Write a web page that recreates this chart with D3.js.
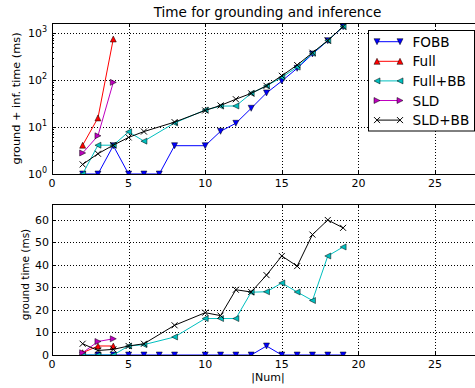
<!DOCTYPE html>
<meta charset="utf-8">
<style>
body { margin: 0; background: #fff; }
svg { display: block; font-family: "DejaVu Sans", sans-serif; }
.grid line { stroke: #000; stroke-width: 1; stroke-dasharray: 1,2; shape-rendering: crispEdges; }
.frame { fill: none; stroke: #000; stroke-width: 1; shape-rendering: crispEdges; }
.tick-mark { stroke: #000; stroke-width: 1; shape-rendering: crispEdges; }
.ticklabel { font-size: 11px; fill: #000; }
</style>
<body>
<svg width="475" height="388"></svg>
<script src="https://cdn.jsdelivr.net/npm/d3@7"></script>
<script>

// x values (|Num|) per series
var xFOBB = [2, 3, 4, 5, 6, 7, 8, 10, 11, 12, 13, 14, 15, 16, 17, 18, 19],
    xFull = [2, 3, 4],
    xFullBB = [2, 3, 4, 5, 6, 8, 10, 11, 12, 13, 14, 15, 16, 17, 18, 19],
    xSLD = [2, 3, 4],
    xSLDBB = [2, 3, 4, 5, 6, 8, 10, 11, 12, 13, 14, 15, 16, 17, 18, 19];

// ground + inference time (ms)
var totFOBB = [1, 1, 4, 1, 1, 1, 4, 4, 8.1, 12, 25, 53, 95, 177, 357, 685, 1360],
    totFull = [4.1, 15.6, 745],
    totFullBB = [1, 4.1, 4.1, 7.9, 5.0, 12.2, 23, 27.8, 28, 52, 75, 114, 188, 369, 690, 1370],
    totSLD = [2.8, 6.5, 89],
    totSLDBB = [1.6, 2.7, 4.1, 6.0, 8.0, 12.7, 22.5, 28.7, 39, 52, 75, 123, 208, 380, 690, 1370];

// ground time (ms)
var gndFOBB = [0, 0, 0, 0, 0, 0, 0, 0, 0, 0, 0, 4, 0, 0, 0, 0, 0],
    gndFull = [1, 4, 4],
    gndFullBB = [0, 0, 0, 4, 4.6, 8, 16.2, 16.2, 16.2, 27.9, 28.1, 32, 28, 24.2, 44, 48],
    gndSLD = [1, 6, 7.2],
    gndSLDBB = [5, 2, 2.5, 4, 5, 13.2, 18.8, 17.5, 29, 28, 35.5, 44, 39.5, 53.5, 60, 56.5];

var xTicks = [0, 5, 10, 15, 20, 25],
    logTicks = [1, 10, 100, 1000],
    linTicks = [0, 10, 20, 30, 40, 50, 60];

var series = [
  {name: "FOBB",   color: "#0000ff", marker: "v", xs: xFOBB,   tot: totFOBB,   gnd: gndFOBB},
  {name: "Full",   color: "#ff0000", marker: "^", xs: xFull,   tot: totFull,   gnd: gndFull},
  {name: "Full+BB", color: "#00bfbf", marker: "<", xs: xFullBB, tot: totFullBB, gnd: gndFullBB},
  {name: "SLD",    color: "#bf00bf", marker: ">", xs: xSLD,    tot: totSLD,    gnd: gndSLD},
  {name: "SLD+BB", color: "#000000", marker: "x", xs: xSLDBB,  tot: totSLDBB,  gnd: gndSLDBB}
];

var svg = d3.select("svg");
var left = 52, right = 481;

var x = d3.scaleLinear().domain([0, 28]).range([left, right]);
var yTop = d3.scaleLog().domain([1, 1630]).range([174, 23]);
var yBot = d3.scaleLinear().domain([0, 67.1]).range([355, 204]);

function markerPath(m) {
  var s = 3;
  if (m == "v") return "M" + (-s) + "," + (-s) + "L" + s + "," + (-s) + "L0," + s + "Z";
  if (m == "^") return "M" + (-s) + "," + s + "L" + s + "," + s + "L0," + (-s) + "Z";
  if (m == "<") return "M" + s + "," + (-s) + "L" + s + "," + s + "L" + (-s) + ",0Z";
  if (m == ">") return "M" + (-s) + "," + (-s) + "L" + (-s) + "," + s + "L" + s + ",0Z";
  return "M-3,-3L3,3M-3,3L3,-3";
}

function drawPanel(id, y, key, ticks, isLog) {
  var y0 = y.range()[0], y1 = y.range()[1];
  var g = svg.append("g");

  svg.append("clipPath").attr("id", id)
    .append("rect").attr("x", left).attr("y", y1).attr("width", right - left).attr("height", y0 - y1);

  // grid
  var grid = g.append("g").attr("class", "grid");
  grid.selectAll(".gx").data(xTicks.filter(function(d) { return d > 0; })).enter().append("line")
      .attr("x1", function(d) { return Math.round(x(d)) + 0.5; })
      .attr("x2", function(d) { return Math.round(x(d)) + 0.5; })
      .attr("y1", y1).attr("y2", y0);
  grid.selectAll(".gy").data(ticks.filter(function(d) { return isLog ? d > 1 : d > 0; })).enter().append("line")
      .attr("y1", function(d) { return Math.round(y(d)) + 0.5; })
      .attr("y2", function(d) { return Math.round(y(d)) + 0.5; })
      .attr("x1", left).attr("x2", right);

  // ticks (inward, both sides)
  var tk = g.append("g");
  xTicks.forEach(function(d) {
    var px = Math.round(x(d)) + 0.5;
    tk.append("line").attr("class", "tick-mark").attr("x1", px).attr("x2", px).attr("y1", y0).attr("y2", y0 - 4);
    tk.append("line").attr("class", "tick-mark").attr("x1", px).attr("x2", px).attr("y1", y1).attr("y2", y1 + 4);
  });
  ticks.forEach(function(d) {
    var py = Math.round(y(d)) + 0.5;
    tk.append("line").attr("class", "tick-mark").attr("x1", left).attr("x2", left + 4).attr("y1", py).attr("y2", py);
  });
  if (isLog) {
    var minor = [];
    [1, 10, 100, 1000].forEach(function(dec) {
      for (var k = 2; k <= 9; k++) if (dec * k < y.domain()[1]) minor.push(dec * k);
    });
    minor.forEach(function(d) {
      var py = Math.round(y(d)) + 0.5;
      tk.append("line").attr("class", "tick-mark").attr("x1", left).attr("x2", left + 2).attr("y1", py).attr("y2", py);
    });
  }

  // x tick labels
  g.selectAll(".xl").data(xTicks).enter().append("text")
      .attr("class", "ticklabel")
      .attr("x", function(d) { return x(d); })
      .attr("y", y0 + 13)
      .attr("text-anchor", "middle")
      .text(function(d) { return d; });

  // y tick labels
  if (isLog) {
    ticks.forEach(function(d) {
      var t = g.append("text").attr("class", "ticklabel")
          .attr("x", left - 5).attr("y", y(d) + 4).attr("text-anchor", "end");
      t.append("tspan").text("10");
      t.append("tspan").attr("dy", -5).attr("font-size", "8px").text(Math.round(Math.log10(d)));
    });
  } else {
    g.selectAll(".yl").data(ticks).enter().append("text")
        .attr("class", "ticklabel")
        .attr("x", left - 3)
        .attr("y", function(d) { return y(d) + 4; })
        .attr("text-anchor", "end")
        .text(function(d) { return d; });
  }

  // series
  var plot = g.append("g").attr("clip-path", "url(#" + id + ")");
  series.forEach(function(s) {
    var pts = s.xs.map(function(v, i) { return [x(v), y(s[key][i])]; });
    plot.append("path")
        .attr("d", d3.line()(pts))
        .attr("fill", "none")
        .attr("stroke", s.color)
        .attr("stroke-width", 1);
    plot.selectAll(null).data(pts).enter().append("path")
        .attr("transform", function(p) { return "translate(" + p[0] + "," + p[1] + ")"; })
        .attr("d", markerPath(s.marker))
        .attr("fill", s.marker == "x" ? "none" : s.color)
        .attr("stroke", "#000")
        .attr("stroke-width", s.marker == "x" ? 1 : 0.5);
  });

  g.append("rect").attr("class", "frame")
      .attr("x", left + 0.5).attr("y", y1 + 0.5)
      .attr("width", right - left).attr("height", y0 - y1);
}

drawPanel("clipTop", yTop, "tot", logTicks, true);
drawPanel("clipBot", yBot, "gnd", linTicks, false);

// title and axis labels
svg.append("text").attr("x", 267.5).attr("y", 17).attr("text-anchor", "middle")
    .attr("font-size", "13.6px").text("Time for grounding and inference");
svg.append("text").attr("transform", "translate(19.5,98.5) rotate(-90)").attr("text-anchor", "middle")
    .attr("font-size", "11.3px").text("ground + inf. time (ms)");
svg.append("text").attr("transform", "translate(28.5,274.5) rotate(-90)").attr("text-anchor", "middle")
    .attr("font-size", "10.5px").text("ground time (ms)");
svg.append("text").attr("x", 268).attr("y", 381).attr("text-anchor", "middle")
    .attr("font-size", "11px").text("|Num|");

// legend
var lg = svg.append("g");
lg.append("rect").attr("x", 368.5).attr("y", 30.5).attr("width", 106).attr("height", 100.5)
    .attr("fill", "#fff").attr("stroke", "#000").attr("stroke-width", 1);
series.forEach(function(s, i) {
  var ly = 41.7 + i * 19.6;
  lg.append("line").attr("x1", 377).attr("x2", 400).attr("y1", ly).attr("y2", ly)
      .attr("stroke", s.color).attr("stroke-width", 1);
  [377, 400].forEach(function(mx) {
    lg.append("path").attr("transform", "translate(" + mx + "," + ly + ")")
        .attr("d", markerPath(s.marker))
        .attr("fill", s.marker == "x" ? "none" : s.color)
        .attr("stroke", "#000")
        .attr("stroke-width", s.marker == "x" ? 1 : 0.5);
  });
  lg.append("text").attr("x", 412.5).attr("y", ly + 5).attr("font-size", "13.6px").text(s.name);
});

</script>
</body>
